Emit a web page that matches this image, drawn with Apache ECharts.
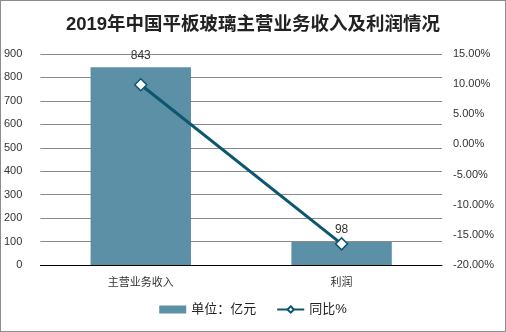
<!DOCTYPE html>
<html>
<head>
<meta charset="utf-8">
<script src="https://cdn.jsdelivr.net/npm/echarts@6/dist/echarts.min.js"></script>
<style>
  html, body { margin: 0; padding: 0; background: #fff; }
  #chart { width: 504px; height: 330px; border: 1px solid #8c8c8c; }
</style>
</head>
<body>
<div id="chart"></div>
<script>
// Revenue and profit of China's flat glass industry, 2019
const categories = ['主营业务收入', '利润'];
const amounts = [843, 98];          // 亿元
const yoyRates = [9.9, -16.5];      // %
const seriesNames = ['单位：亿元', '同比%'];

const chart = echarts.init(document.getElementById('chart'));
const font = 'Arial, "Liberation Sans", "Noto Sans CJK SC", sans-serif';

chart.setOption({
  animation: false,
  textStyle: { fontFamily: font },
  title: {
    text: '2019年中国平板玻璃主营业务收入及利润情况',
    left: 'center',
    top: 10,
    textStyle: { fontSize: 18.5, fontWeight: 'bold', color: '#222', fontFamily: font }
  },
  legend: {
    bottom: 10,
    left: 'center',
    itemGap: 20,
    itemWidth: 27,
    itemHeight: 8,
    textStyle: { fontSize: 13, color: '#222' },
    data: [
      { name: seriesNames[0], icon: 'rect' },
      { name: seriesNames[1] }
    ]
  },
  grid: { left: 39, right: 63, top: 53, bottom: 66 },
  xAxis: {
    type: 'category',
    data: categories,
    axisLine: { lineStyle: { color: '#000', width: 1 } },
    axisTick: { show: false },
    axisLabel: { fontSize: 11, color: '#333', margin: 12 }
  },
  yAxis: [
    {
      type: 'value',
      min: 0, max: 900, interval: 100,
      axisLine: { show: false },
      axisTick: { show: false },
      axisLabel: { fontSize: 11, color: '#333', margin: 18 },
      splitLine: { lineStyle: { color: '#8a8a8a', width: 1 } }
    },
    {
      type: 'value',
      min: -20, max: 15, interval: 5,
      axisLine: { show: false },
      axisTick: { show: false },
      axisLabel: {
        fontSize: 11, color: '#333', margin: 11,
        formatter: v => v.toFixed(2) + '%'
      },
      splitLine: { show: false }
    }
  ],
  series: [
    {
      name: seriesNames[0],
      type: 'bar',
      data: amounts,
      barWidth: '50%',
      itemStyle: { color: '#5b90a6' },
      label: { show: true, position: 'top', fontSize: 12, color: '#333', distance: 6 }
    },
    {
      name: seriesNames[1],
      type: 'line',
      yAxisIndex: 1,
      data: yoyRates,
      symbol: 'diamond',
      symbolSize: 12,
      lineStyle: { color: '#0d5670', width: 3 },
      itemStyle: { color: '#fff', borderColor: '#0d5670', borderWidth: 1.5 },
      z: 5
    }
  ]
});
</script>
</body>
</html>
